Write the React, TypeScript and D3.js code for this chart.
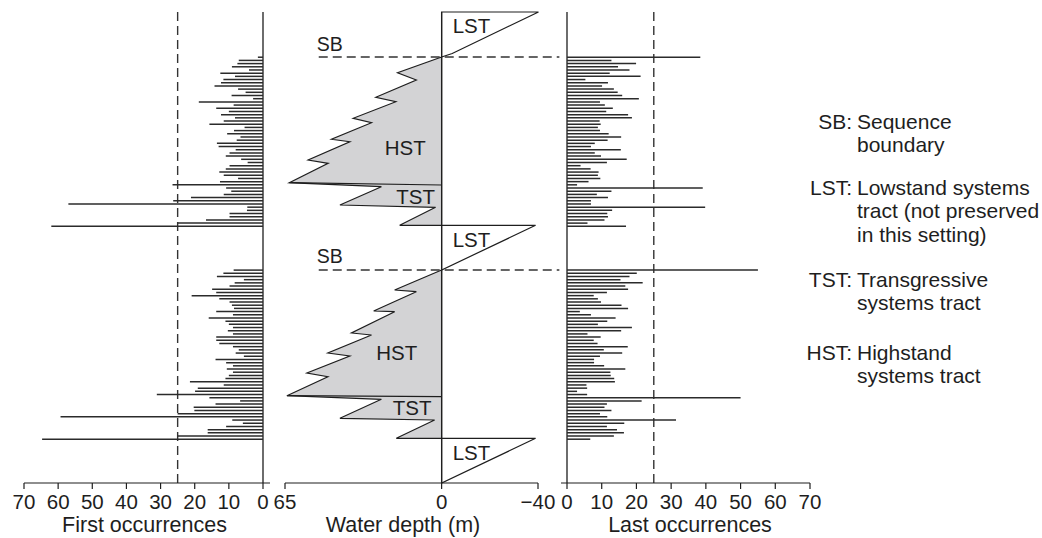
import React from 'react';
import * as d3 from 'd3';

// ---------- data ----------
// first occurrences per sample, top (SB) to base, upper and lower sequence
const firstOccUpper = [1.5, 7.1, 7.5, 9.1, 4.1, 12.5, 8.2, 11.6, 12.3, 14.2, 7.3, 5.1, 9.2, 2.9, 18.8, 8.6, 13.7, 10, 12.3, 8.2, 11.5, 15.7, 5.4, 8.5, 10.5, 6.6, 7.7, 13.5, 13, 8, 9.8, 10.9, 6.4, 4.5, 9.8, 10.9, 12.8, 11.5, 7.3, 12.6, 26.5, 10.8, 9.3, 11.5, 21.1, 26.3, 57, 4.6, 4.7, 9.8, 9.8, 16.7, 25, 62];
const firstOccLower = [8.6, 11.6, 13.5, 5.6, 8.3, 9.8, 14.9, 13.7, 20.9, 12.8, 9.8, 9.1, 8.5, 13.7, 8.8, 15.9, 11, 10, 8.8, 10.3, 8.8, 13.7, 13.7, 12.8, 8.8, 7.1, 8, 5.6, 13.9, 10.8, 8.8, 10.6, 8.8, 10, 11, 21.4, 11.5, 19.1, 19.9, 31.1, 15.7, 6.7, 13.9, 20.3, 20.1, 25, 59.3, 9, 5.9, 10.8, 16.2, 16.2, 25, 64.7];
const lastOccUpper = [38.4, 12.8, 19.9, 14.7, 18, 12.3, 21.2, 5.3, 11.8, 10.1, 13.5, 14.6, 15.9, 20.7, 9.5, 10.9, 13.2, 11.3, 17.6, 18.7, 9.4, 9.7, 8.9, 9.5, 12, 15.6, 11.7, 8, 6.9, 15.5, 8, 9.8, 17.2, 11.5, 3.9, 6.8, 9.1, 8.9, 9.6, 6.2, 2.9, 39.1, 12.8, 8.6, 11.8, 6.9, 6.9, 39.8, 13, 11.6, 11.8, 10.8, 5.9, 17];
const lastOccLower = [55, 20.1, 18, 15.4, 21.8, 16.8, 17.6, 11.5, 7.7, 8.9, 9.8, 15.7, 17.6, 3.7, 6.9, 14, 11.6, 8.9, 18.7, 15.6, 5.9, 9.7, 7.7, 8.8, 17.5, 10.6, 15.9, 9.5, 7.8, 7.8, 10.7, 16.8, 12.5, 12.6, 13.6, 13.8, 5.6, 5.8, 2.9, 5.8, 50, 21.5, 11.5, 10.8, 12.8, 9.5, 11.6, 31.4, 16.5, 11.5, 14.4, 16.4, 13.5, 6.7];

// stratigraphic height (0 = base, 100 = top) of first and last sample of each sequence
const sectionTop = [90.4, 45.2];
const sectionBase = [54.5, 9.3];
const sbHeights = [90.45, 45.22];

// water depth curve: [depth m, height]
const hstUpper: [number, number][] = [[0, 90.45], [18.3, 87.11], [10.5, 85.56], [27.3, 81.89], [19, 80.95], [36.7, 77.43], [29.1, 76.5], [45.7, 72.97], [38.1, 72.46], [55.4, 68.58], [47.1, 67.88], [63.2, 63.76]];
const hstLower: [number, number][] = [[0, 45.22], [19.5, 40.98], [10.5, 40.62], [28.2, 36.52], [19.5, 36.37], [37.4, 31.85], [29.1, 31.42], [47.2, 27.6], [38.1, 26.96], [55.9, 23.35], [47.2, 22.57], [64.2, 18.53]];
const hstBase = [63.27, 18.32];
const tstUpper: [number, number][] = [[25, 62.91], [42.2, 59.02], [2.5, 58.54], [17.4, 54.71], [0, 54.71]];
const tstLower: [number, number][] = [[25, 17.77], [42.2, 13.74], [2.9, 13.38], [18.8, 9.49], [0, 9.49]];
const lstUpper: [number, number][] = [[0, 100], [-40.2, 100], [-4.4, 91.2], [0, 90.45]];
const lstMiddle: [number, number][] = [[0, 54.71], [-39, 54.71], [0, 45.22]];
const lstLower: [number, number][] = [[0, 9.49], [-39, 9.49], [0, 0]];

const annotations = [
  { text: 'LST', depth: -4.6, h: 95.5 },
  { text: 'HST', depth: 23.6, h: 69.6 },
  { text: 'TST', depth: 18.8, h: 59.3 },
  { text: 'LST', depth: -4.6, h: 50.1 },
  { text: 'HST', depth: 27.1, h: 26.1 },
  { text: 'TST', depth: 20.3, h: 14.4 },
  { text: 'LST', depth: -4.6, h: 4.9 },
  { text: 'SB', depth: 51.8, h: 91.7 },
  { text: 'SB', depth: 51.8, h: 46.7 },
];

const occTicks = [0, 10, 20, 30, 40, 50, 60, 70];
const depthTicks = [65, 0, -40];
const thresholdValue = 25;

const legendItems = [
  { key: 'SB:', lines: ['Sequence', 'boundary'] },
  { key: 'LST:', lines: ['Lowstand systems', 'tract (not preserved', 'in this setting)'] },
  { key: 'TST:', lines: ['Transgressive', 'systems tract'] },
  { key: 'HST:', lines: ['Highstand', 'systems tract'] },
];
const legendBaselines = [129, 195, 286.5, 359.5];

const axisTitles = ['First occurrences', 'Water depth (m)', 'Last occurrences'];

// ---------- layout ----------
const W = 1042;
const H = 538;
const FONT = '"Liberation Sans", Arial, Helvetica, sans-serif';
const INK = '#1e1e1e';
const GREY = '#d3d3d5';

export default function App() {
  const y = d3.scaleLinear().domain([0, 100]).range([483, 12]);
  const xL = d3.scaleLinear().domain([0, 70]).range([263, 24]);
  const xM = d3.scaleLinear().domain([65, -40]).range([285, 538]);
  const xR = d3.scaleLinear().domain([0, 70]).range([567, 810]);
  const axisY = y(0);

  const line = d3.line<[number, number]>().x(d => xM(d[0])).y(d => y(d[1]));

  const barsFor = (vals: number[], sec: number) => {
    const pos = d3.scaleLinear().domain([0, vals.length - 1]).range([sectionTop[sec], sectionBase[sec]]);
    return vals.map((v, i) => ({ v, h: pos(i) }));
  };
  const leftBars = [...barsFor(firstOccUpper, 0), ...barsFor(firstOccLower, 1)];
  const rightBars = [...barsFor(lastOccUpper, 0), ...barsFor(lastOccLower, 1)];

  const cycles = [
    { hst: hstUpper, tst: tstUpper, base: hstBase[0] },
    { hst: hstLower, tst: tstLower, base: hstBase[1] },
  ];

  const axis = (scale: d3.ScaleLinear<number, number>, ticks: number[], x0: number, x1: number, fmt: (v: number) => string, key: string) => (
    <g key={key}>
      <line x1={x0} x2={x1} y1={axisY} y2={axisY} stroke={INK} strokeWidth={1.2} />
      {ticks.map(t => (
        <g key={t}>
          <line x1={scale(t)} x2={scale(t)} y1={axisY} y2={axisY + 6} stroke={INK} strokeWidth={1.2} />
          <text x={scale(t)} y={axisY + 26} textAnchor="middle" fontSize={20.5} fontFamily={FONT} fill={INK}>{fmt(t)}</text>
        </g>
      ))}
    </g>
  );

  return (
    <svg width={W} height={H} style={{ position: 'absolute', left: 0, top: 0, background: '#fff' }}>
      {/* left panel */}
      <line x1={xL(0)} x2={xL(0)} y1={y(100)} y2={axisY} stroke={INK} strokeWidth={1.3} />
      <line x1={xL(thresholdValue)} x2={xL(thresholdValue)} y1={y(100)} y2={axisY} stroke="#333" strokeWidth={1.4} strokeDasharray="9,5" />
      {leftBars.map((b, i) => (
        <line key={'l' + i} x1={xL(0)} x2={xL(b.v)} y1={y(b.h)} y2={y(b.h)} stroke="#2b2b2b" strokeWidth={1.5} />
      ))}
      {axis(xL, occTicks, xL(70), xL(0) + 7, v => String(v), 'axL')}

      {/* middle panel */}
      {cycles.map((c, i) => {
        const poly = [...c.hst, ...c.tst, [0, c.hst[0][1]] as [number, number]];
        const tip = c.hst[c.hst.length - 1];
        return (
          <g key={'c' + i}>
            <path d={line(poly) + 'Z'} fill={GREY} stroke={INK} strokeWidth={1.2} strokeLinejoin="miter" />
            <path d={line([tip, [0, c.base]])!} fill="none" stroke={INK} strokeWidth={1.2} />
          </g>
        );
      })}
      {[lstUpper, lstMiddle, lstLower].map((t, i) => (
        <path key={'lst' + i} d={line(t) + 'Z'} fill="#fff" stroke={INK} strokeWidth={1.2} />
      ))}
      <line x1={xM(0)} x2={xM(0)} y1={y(100)} y2={axisY} stroke={INK} strokeWidth={1.3} />
      {sbHeights.map((h, i) => (
        <line key={'sb' + i} x1={xM(51)} x2={xR(-2.2)} y1={y(h)} y2={y(h)} stroke="#333" strokeWidth={1.3} strokeDasharray="9,5" />
      ))}
      {annotations.map((a, i) => (
        <text key={'a' + i} x={xM(a.depth)} y={y(a.h)} fontSize={a.text === 'SB' ? 19.5 : 20.5} fontFamily={FONT} fill={INK}>{a.text}</text>
      ))}
      {axis(xM, depthTicks, xM(65), xM(-40), v => (v < 0 ? '\u2212' + Math.abs(v) : String(v)), 'axM')}

      {/* right panel */}
      <line x1={xR(0)} x2={xR(0)} y1={y(100)} y2={axisY} stroke={INK} strokeWidth={1.3} />
      <line x1={xR(thresholdValue)} x2={xR(thresholdValue)} y1={y(100)} y2={axisY} stroke="#333" strokeWidth={1.4} strokeDasharray="9,5" />
      {rightBars.map((b, i) => (
        <line key={'r' + i} x1={xR(0)} x2={xR(b.v)} y1={y(b.h)} y2={y(b.h)} stroke="#2b2b2b" strokeWidth={1.5} />
      ))}
      {axis(xR, occTicks, xR(0) - 6, xR(70), v => String(v), 'axR')}

      {/* axis titles */}
      <text x={144.5} y={532} textAnchor="middle" fontSize={21.5} fontFamily={FONT} fill={INK}>{axisTitles[0]}</text>
      <text x={403} y={532} textAnchor="middle" fontSize={21.5} fontFamily={FONT} fill={INK}>{axisTitles[1]}</text>
      <text x={690} y={532} textAnchor="middle" fontSize={21.5} fontFamily={FONT} fill={INK}>{axisTitles[2]}</text>

      {/* legend */}
      {legendItems.map((it, i) => (
        <g key={'lg' + i}>
          <text x={852} y={legendBaselines[i]} textAnchor="end" fontSize={21} fontFamily={FONT} fill={INK}>{it.key}</text>
          {it.lines.map((ln, j) => (
            <text key={j} x={857} y={legendBaselines[i] + j * 23.3} fontSize={21} fontFamily={FONT} fill={INK}>{ln}</text>
          ))}
        </g>
      ))}
    </svg>
  );
}
